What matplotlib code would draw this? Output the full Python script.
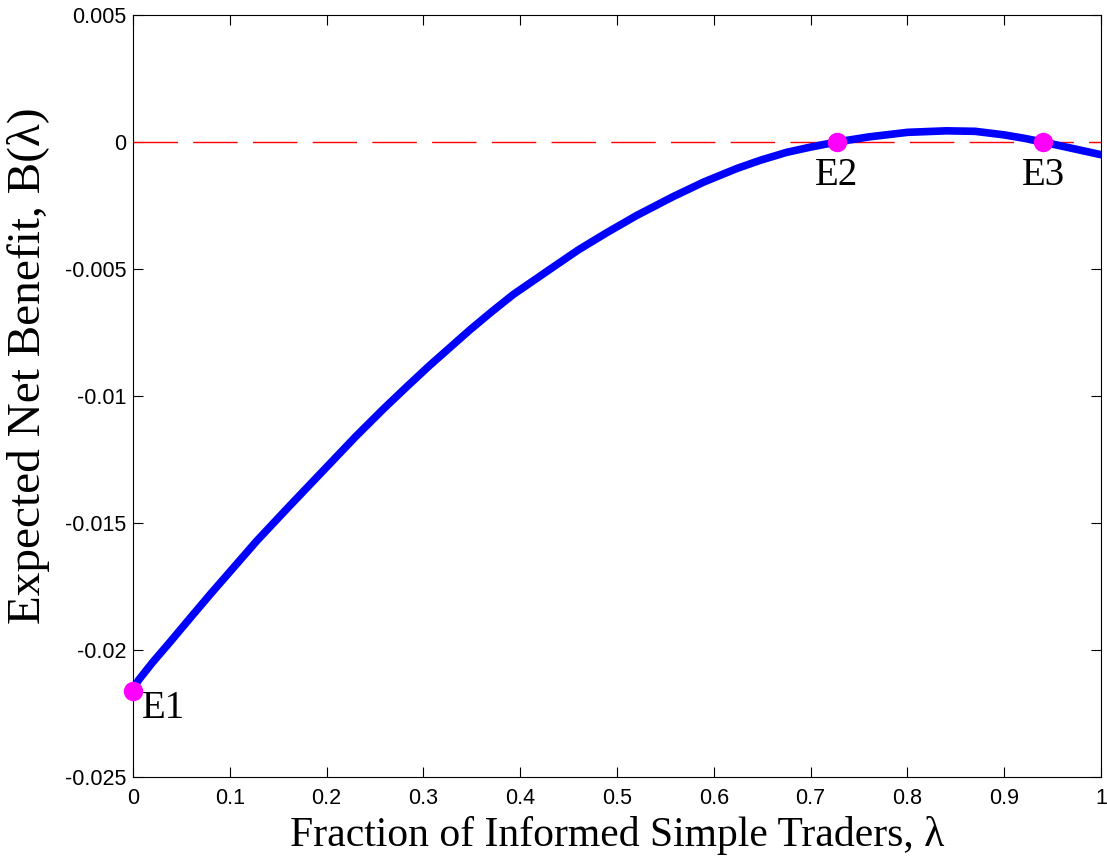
import matplotlib
matplotlib.use("Agg")
import matplotlib.pyplot as plt

# curve
lam = [0.0, 0.0055, 0.02, 0.038, 0.06, 0.08, 0.104, 0.128, 0.16, 0.2, 0.23,
       0.259, 0.283, 0.307, 0.348, 0.37, 0.393, 0.435, 0.46, 0.489, 0.52,
       0.558, 0.59, 0.624, 0.648, 0.675, 0.7, 0.727, 0.76, 0.8, 0.84, 0.87,
       0.9, 0.92, 0.94, 0.97, 1.0]
B = [-0.0216, -0.0212, -0.0205, -0.0197, -0.0187, -0.0178, -0.01675, -0.0157,
     -0.0144, -0.0128, -0.0116, -0.0105, -0.00963, -0.00878, -0.0074, -0.0067,
     -0.0060, -0.0049, -0.00425, -0.00358, -0.0029, -0.00215, -0.00157,
     -0.00104, -0.00072, -0.00041, -0.0002, 0.0, 0.0002, 0.00038, 0.00044,
     0.00042, 0.00028, 0.00015, 0.0, -0.00025, -0.0005]

eq_x = [0.0, 0.727, 0.94]
eq_y = [-0.0216, 0.0, 0.0]
eq_lab = ["E1", "E2", "E3"]

xticks = [0, 0.1, 0.2, 0.3, 0.4, 0.5, 0.6, 0.7, 0.8, 0.9, 1]
yticks = [-0.025, -0.02, -0.015, -0.01, -0.005, 0, 0.005]

fig = plt.figure(figsize=(11.07, 8.67), dpi=100)
ax = fig.add_axes([0.1201, 0.1038, 0.8745, 0.8789])

ax.plot([0, 1], [0, 0], color="red", lw=1.0, dashes=(32, 11))
ax.plot(lam, B, color="blue", lw=5.5, solid_capstyle="round", solid_joinstyle="round")
ax.plot(eq_x, eq_y, "o", color="magenta", ms=13, clip_on=False, zorder=5)

serif = "Liberation Serif"
ax.text(0.009, -0.0223, eq_lab[0], fontsize=28, family=serif, va="center", ha="left")
ax.text(eq_x[1], -0.0013, eq_lab[1], fontsize=28, family=serif, va="center", ha="center")
ax.text(eq_x[2], -0.0013, eq_lab[2], fontsize=28, family=serif, va="center", ha="center")

ax.set_xlim(0, 1)
ax.set_ylim(-0.025, 0.005)
ax.set_xticks(xticks)
ax.set_xticklabels(["0", "0.1", "0.2", "0.3", "0.4", "0.5", "0.6", "0.7", "0.8", "0.9", "1"])
ax.set_yticks(yticks)
ax.set_yticklabels(["-0.025", "-0.02", "-0.015", "-0.01", "-0.005", "0", "0.005"])
ax.tick_params(direction="in", length=7, top=True, right=True, labelsize=15.5)
ax.tick_params(axis="x", pad=8)
ax.tick_params(axis="y", pad=5)
for lab in ax.get_xticklabels() + ax.get_yticklabels():
    lab.set_family("Liberation Sans")

ax.set_xlabel("Fraction of Informed Simple Traders, \u03bb", fontsize=30, family=serif, labelpad=5)
ax.set_ylabel("Expected Net Benefit, B(\u03bb)", fontsize=34, family=serif)
ax.yaxis.set_label_coords(-0.086, 0.54)

fig.savefig("out.png", dpi=100)
